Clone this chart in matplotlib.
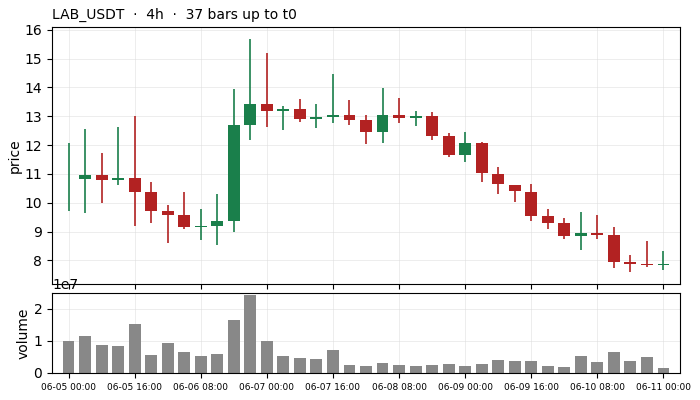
import matplotlib
matplotlib.use("Agg")
import matplotlib.pyplot as plt
import matplotlib.dates as mdates
from matplotlib.ticker import MultipleLocator
import pandas as pd
import numpy as np

# 4h candles, LAB_USDT
times = pd.date_range("2025-06-05 00:00", periods=37, freq="4h")
opens = [10.90, 10.84, 10.97, 10.80, 10.87, 10.39, 9.70, 9.56, 9.16, 9.20,
         9.36, 12.71, 13.42, 13.18, 13.25, 12.90, 12.97, 13.04, 12.87, 12.46,
         13.04, 12.94, 13.00, 12.32, 11.64, 12.08, 11.01, 10.63, 10.39, 9.53,
         9.29, 8.85, 8.94, 8.87, 7.95, 7.88, 7.85]
highs = [12.07, 12.56, 11.72, 12.62, 13.00, 10.73, 9.94, 10.38, 9.77, 10.32,
         13.93, 15.69, 15.21, 13.37, 13.59, 13.42, 14.45, 13.56, 13.04, 13.99,
         13.65, 13.18, 13.14, 12.42, 12.45, 12.10, 11.25, 10.63, 10.65, 9.80,
         9.49, 9.69, 9.59, 9.15, 8.19, 8.69, 8.32]
lows = [9.71, 9.66, 10.00, 10.62, 9.20, 9.31, 8.62, 9.10, 8.71, 8.55,
        9.00, 12.17, 12.64, 12.51, 12.81, 12.60, 12.77, 12.71, 12.03, 12.09,
        12.75, 12.67, 12.17, 11.60, 11.43, 10.72, 10.31, 10.03, 9.38, 9.10,
        8.73, 8.35, 8.73, 7.73, 7.59, 7.76, 7.66]
closes = [10.90, 10.97, 10.80, 10.87, 10.39, 9.71, 9.57, 9.16, 9.19, 9.36,
          12.70, 13.42, 13.19, 13.25, 12.90, 12.97, 13.04, 12.87, 12.46, 13.04,
          12.94, 13.00, 12.33, 11.64, 12.08, 11.02, 10.64, 10.40, 9.54, 9.30,
          8.85, 8.94, 8.88, 7.96, 7.88, 7.85, 7.87]
volumes = [0.99, 1.17, 0.88, 0.85, 1.52, 0.57, 0.95, 0.66, 0.54, 0.60,
           1.67, 2.44, 1.01, 0.54, 0.47, 0.44, 0.73, 0.26, 0.22, 0.32,
           0.25, 0.22, 0.25, 0.28, 0.22, 0.28, 0.41, 0.38, 0.38, 0.22,
           0.19, 0.54, 0.35, 0.66, 0.38, 0.51, 0.16]
volumes = [v * 1e7 for v in volumes]

UP = "#1a7f4b"
DOWN = "#b22222"

fig = plt.figure(figsize=(7, 4), dpi=100)
ax = fig.add_axes([52 / 700, 1 - 284 / 400, 628 / 700, 257 / 400])
axv = fig.add_axes([52 / 700, 1 - 373 / 400, 628 / 700, 80 / 400], sharex=ax)

x = mdates.date2num(times)
step = x[1] - x[0]
w = step * 0.72
o = np.array(opens)
c = np.array(closes)
colors = [UP if cc >= oo else DOWN for oo, cc in zip(o, c)]

ax.vlines(x, lows, highs, colors=colors, linewidth=1.2, zorder=2)
ax.bar(x, np.abs(c - o), width=w, bottom=np.minimum(o, c), color=colors,
       linewidth=0, zorder=3)
axv.bar(x, volumes, width=w, color="#888888", linewidth=0, zorder=2)

ax.set_xlim(x[0] - step, x[-1] + step)
ax.set_ylabel("price", fontsize=10, labelpad=2)
axv.set_ylabel("volume", fontsize=10, labelpad=2)
ax.set_title("LAB_USDT  ·  4h  ·  37 bars up to t0", loc="left", fontsize=10)

ticks = x[::4]
axv.set_xticks(ticks)
axv.xaxis.set_major_formatter(mdates.DateFormatter("%m-%d %H:%M"))
axv.yaxis.set_major_locator(MultipleLocator(1e7))
axv.set_ylim(0, 2.5e7)
plt.setp(ax.get_xticklabels(), visible=False)
axv.tick_params(axis="x", labelsize=6.5)
ax.tick_params(axis="y", labelsize=10)
axv.tick_params(axis="y", labelsize=10)

for a in (ax, axv):
    a.grid(True, color="#dddddd", linewidth=0.6, alpha=0.6)
    a.set_axisbelow(True)

fig.savefig("out.png", dpi=100)
